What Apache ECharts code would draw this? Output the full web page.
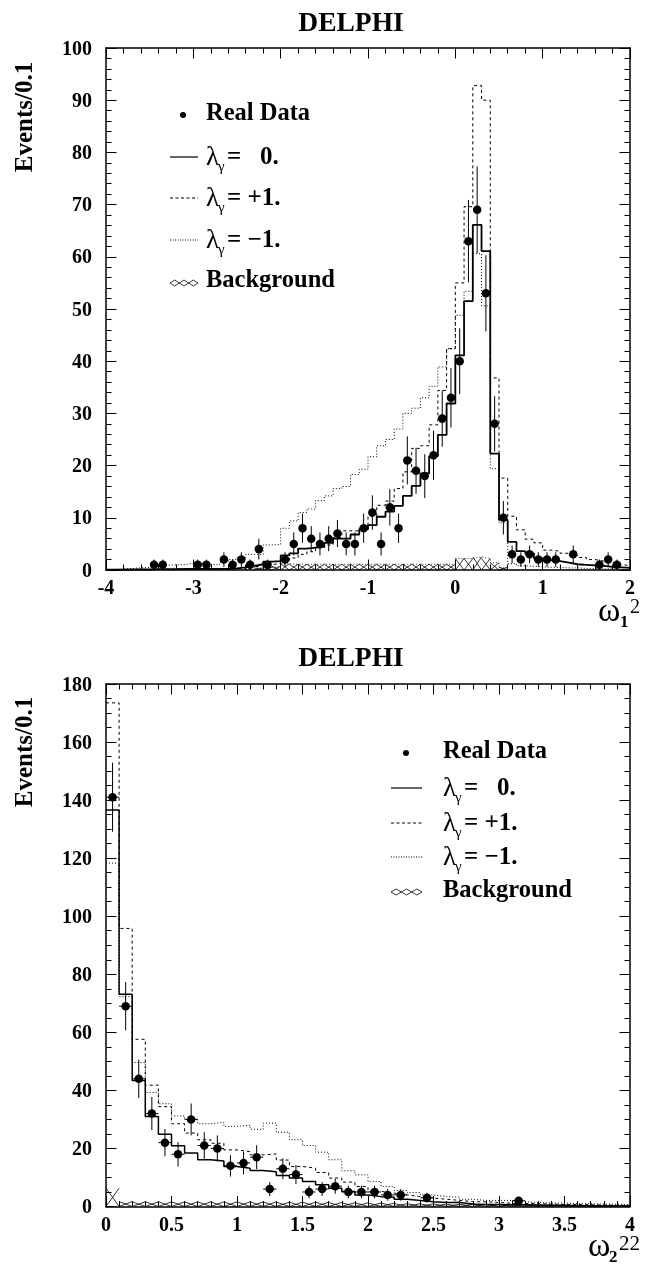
<!DOCTYPE html>
<html>
<head>
<meta charset="utf-8">
<style>html,body{margin:0;padding:0;background:#fff}#main{width:651px;height:1264px}</style>
<script src="https://cdn.jsdelivr.net/npm/echarts@6/dist/echarts.min.js"></script>
</head>
<body>
<div id="main"></div>
<script>
// upper plot, 60 bins of 0.1 from -4
var solid1 = [.05,.05,.1,.1,.1,.15,.15,.15,.2,.2,.2,.2,.2,.2,.3,.5,.8,1.1,1.6,1.7,2.8,3.2,4.1,4.3,4.5,5.2,6,6,6.8,7.8,8.6,10.2,11.2,12.3,14.2,16.1,18.5,21.8,25.9,31.9,41.1,51.5,66.1,61.1,22.3,9.6,5.4,3.6,3.2,2.2,1.9,1.7,1.4,1.1,1,.9,.8,.6,.5,.4];
var plus1 = [.05,.05,.05,.1,.1,.1,.15,.15,.15,.2,.2,.2,.25,.25,.3,.4,.6,.8,1,1.3,1.8,2.3,3,3.5,4.2,4.8,6.2,7.5,7.5,8,10.3,12.4,13.2,15.6,18.8,23.3,23.8,27.8,34.4,42.4,55,69.6,92.8,90,36.8,17.6,10.3,7.7,5.9,5.2,3.8,3.6,3.2,2.8,2.4,2,1.7,1.4,1.1,.8];
var minus1 = [.1,.2,.3,.4,.5,.8,.9,1,1,1.3,1.3,1.1,1,1.5,2,2.4,3,3,4.8,4.9,8,9.4,11,11.7,13.3,14.2,15.6,16,18.3,19.3,21.7,23.8,25,27,30,31,33,35.2,38.9,42.4,48.8,53.4,60.6,50.6,19.4,9,1.2,.8,.7,.6,.5,.5,.4,.4,.3,.3,.2,.2,.1,.1];
var back1 = [0,0,0,0,0,0,0,0,0,0,0,0,0,0,0,0,0,.4,.5,.7,1.2,1.1,1.1,1.1,1.1,1.1,1.1,1.1,1.1,1.1,1.1,1.1,1.1,1.1,1.1,1.1,1.1,1.1,1.1,1.1,2.2,2.2,2.5,2.2,1.4,.5,0,0,0,0,0,0,0,0,0,0,0,0,0,0];
var dataX1 = [-3.45,-3.35,-2.95,-2.85,-2.65,-2.55,-2.45,-2.35,-2.25,-2.15,-1.95,-1.85,-1.75,-1.65,-1.55,-1.45,-1.35,-1.25,-1.15,-1.05,-.95,-.85,-.75,-.65,-.55,-.45,-.35,-.25,-.15,-.05,.05,.15,.25,.35,.45,.55,.65,.75,.85,.95,1.05,1.15,1.35,1.65,1.75,1.85];
var dataY1 = [1,1,1,1,2,1,2,1,4,1,2,5,8,6,5,6,7,5,5,8,11,5,12,8,21,19,18,22,29,33,40,63,69,53,28,10,3,2,3,2,2,2,3,1,2,1];
var dataE1 = [1,1,1,1,1.4,1,1.4,1,2,1,1.4,2.2,2.8,2.4,2.2,2.4,2.6,2.2,2.2,2.8,3.3,2.2,3.5,2.8,4.6,4.4,4.2,4.7,5.4,5.7,6.3,7.9,8.3,7.3,5.3,3.2,1.7,1.4,1.7,1.4,1.4,1.4,1.7,1,1.4,1];

// lower plot, 40 bins of 0.1 from 0
var solid2 = [136.6,73.1,43.4,31,24.9,20.9,18.4,16.1,15.7,13.8,13.2,12.4,12,10.7,9.8,8.6,7.5,6.3,5.2,4,3.4,3.2,2.5,2.1,1.6,1.4,1.4,.9,.7,.7,.6,.6,.5,.4,.4,.3,.3,.2,.2,.2];
var plus2 = [173.5,95.8,57.6,41.8,34.4,28.5,25.3,23,21.8,19.5,18.9,17.8,18.1,16,13.8,13.2,11.7,9.8,8.4,6.9,5.2,4.6,4,3.4,2.9,2.5,2.1,1.7,1.6,1.4,1.1,1,1,.8,.7,.7,.6,.5,.4,.4];
var minus2 = [118.3,72.3,49.6,39.3,35.4,31.2,30,28.5,29,27.6,28,26.6,28.7,25.6,23,21,18.7,16.1,12.3,10.9,8.6,6.9,5.5,4.8,4,3.4,3.2,2.5,2.1,2.1,2.1,1.6,1.4,1.2,1.2,1,1,.8,.8,.6];
var back2 = [6.3,1.7,1.6,1.6,1.6,1.6,1.6,1.6,1.6,1.6,1.6,1.6,1.6,1.5,1.5,1.5,1.5,1.4,1.3,1.3,1.2,1.2,1,1,.9,.9,.8,.8,.7,.7,.6,.6,.5,.5,.5,.4,.4,.4,.3,.3];
var dataX2 = [.05,.15,.25,.35,.45,.55,.65,.75,.85,.95,1.05,1.15,1.25,1.35,1.45,1.55,1.65,1.75,1.85,1.95,2.05,2.15,2.25,2.45,3.15];
var dataY2 = [141,69,44,32,22,18,30,21,20,14,15,17,6,13,11,5,6,7,5,5,5,4,4,3,2];
var dataE2 = [11.9,8.3,6.6,5.7,4.7,4.2,5.5,4.6,4.5,3.7,3.9,4.1,2.4,3.6,3.3,2.2,2.4,2.6,2.2,2.2,2.2,2,2,1.7,1.4];

var serif = '"Liberation Serif","Times New Roman",serif';
var myChart = echarts.init(document.getElementById('main'));

function steps(vals, lo) {
    var out = vals.map(function (v, i) { return [lo + i / 10, v]; });
    out.push([lo + vals.length / 10, vals[vals.length - 1]]);
    return out;
}
function histo(name, vals, lo, idx, width, type) {
    return {
        name: name, type: 'line', step: 'end', xAxisIndex: idx * 2, yAxisIndex: idx * 2,
        data: steps(vals, lo), showSymbol: false, silent: true,
        lineStyle: { color: '#000', width: width, type: type }
    };
}
// each bin of the background gets a cross
function crosses(vals, lo, idx) {
    return {
        type: 'custom', xAxisIndex: idx * 2, yAxisIndex: idx * 2, silent: true,
        data: vals.map(function (v, i) { return [lo + i / 10, v]; }),
        renderItem: function (params, api) {
            var x = api.value(0), v = api.value(1);
            if (!v) return null;
            var a = api.coord([x, 0]), b = api.coord([x + 0.1, v]);
            return {
                type: 'group', children: [
                    { type: 'line', shape: { x1: a[0], y1: a[1], x2: b[0], y2: b[1] }, style: { stroke: '#000', lineWidth: 0.8 } },
                    { type: 'line', shape: { x1: a[0], y1: b[1], x2: b[0], y2: a[1] }, style: { stroke: '#000', lineWidth: 0.8 } }
                ]
            };
        }
    };
}
function errors(xs, ys, es, idx, horiz) {
    return {
        type: 'custom', xAxisIndex: idx * 2, yAxisIndex: idx * 2, silent: true, z: 5,
        data: xs.map(function (x, i) { return [x, ys[i], es[i]]; }),
        renderItem: function (params, api) {
            var x = api.value(0), y = api.value(1), e = api.value(2);
            var p = api.coord([x, Math.max(0, y - e)]), q = api.coord([x, y + e]);
            var kids = [{ type: 'line', shape: { x1: p[0], y1: p[1], x2: q[0], y2: q[1] }, style: { stroke: '#000', lineWidth: 1 } }];
            if (horiz) {
                var l = api.coord([x - 0.05, y]), r = api.coord([x + 0.05, y]);
                kids.push({ type: 'line', shape: { x1: l[0], y1: l[1], x2: r[0], y2: r[1] }, style: { stroke: '#000', lineWidth: 1 } });
            }
            return { type: 'group', children: kids };
        }
    };
}
function dots(xs, ys, idx) {
    return {
        type: 'scatter', xAxisIndex: idx * 2, yAxisIndex: idx * 2, symbolSize: 8.5, z: 6, silent: true,
        itemStyle: { color: '#000', opacity: 1 },
        data: xs.map(function (x, i) { return [x, ys[i]]; })
    };
}
function xAxes(idx, min, max, interval) {
    var base = {
        gridIndex: idx, type: 'value', min: min, max: max, interval: interval, splitLine: { show: false },
        axisLine: { show: true, onZero: false, lineStyle: { color: '#000', width: 1.5 } },
        axisTick: { show: true, inside: true, length: 10.5, lineStyle: { color: '#000', width: 1 } },
        minorTick: { show: true, splitNumber: 5, length: 5.5, lineStyle: { color: '#000', width: 1 } }
    };
    return [
        Object.assign({}, base, { position: 'bottom', axisLabel: { show: true, margin: 9, color: '#000', fontFamily: serif, fontWeight: 'bold', fontSize: 20, showMinLabel: true, showMaxLabel: true, hideOverlap: false } }),
        Object.assign({}, base, { position: 'top', axisLabel: { show: false } })
    ];
}
function yAxes(idx, max, interval, split) {
    var base = {
        gridIndex: idx, type: 'value', min: 0, max: max, interval: interval, splitLine: { show: false },
        axisLine: { show: true, onZero: false, lineStyle: { color: '#000', width: 1.5 } },
        axisTick: { show: true, inside: true, length: 10.5, lineStyle: { color: '#000', width: 1 } },
        minorTick: { show: true, splitNumber: split, length: 5.5, lineStyle: { color: '#000', width: 1 } }
    };
    return [
        Object.assign({}, base, { position: 'left', axisLabel: { show: true, margin: 14, verticalAlign: 'top', lineHeight: 3, color: '#000', fontFamily: serif, fontWeight: 'bold', fontSize: 20, showMinLabel: true, showMaxLabel: true, hideOverlap: false } }),
        Object.assign({}, base, { position: 'right', axisLabel: { show: false } })
    ];
}
function txt(x, y, text, size, weight) {
    return {
        type: 'text', x: x, y: y, silent: true,
        style: { text: text, fontFamily: serif, fontSize: size, fontWeight: weight || 'bold', fill: '#000', verticalAlign: 'middle' }
    };
}
function upright(x, y, text, size) {
    return {
        type: 'text', x: x, y: y, rotation: Math.PI / 2, silent: true,
        style: { text: text, fontFamily: serif, fontSize: size, fontWeight: 'bold', fill: '#000', align: 'center', verticalAlign: 'middle' }
    };
}
function seg(x1, x2, y, width, dash) {
    return { type: 'line', silent: true, shape: { x1: x1, y1: y, x2: x2, y2: y }, style: { stroke: '#000', lineWidth: width, lineDash: dash } };
}
function zigzag(x1, x2, y) {
    var pts = [], pts2 = [], n = 3, w = (x2 - x1) / n;
    for (var i = 0; i <= n * 2; i++) {
        var sign = i % 2 ? 1 : 0;
        pts.push([x1 + i * w / 2, y - sign * 3]);
        pts2.push([x1 + i * w / 2, y + sign * 3]);
    }
    return [
        { type: 'polyline', silent: true, shape: { points: pts }, style: { stroke: '#000', lineWidth: 0.8, fill: null } },
        { type: 'polyline', silent: true, shape: { points: pts2 }, style: { stroke: '#000', lineWidth: 0.8, fill: null } }
    ];
}
// legend block: l1/l2 = sample line ends, tx = text start, ys = row centres
function legend(dotX, dotY, l1, l2, tx, ys, hatchY) {
    var els = [
        { type: 'circle', silent: true, shape: { cx: dotX, cy: dotY, r: 3 }, style: { fill: '#000' } },
        txt(tx, ys[0] + 2, 'Real Data', 24.5),
        seg(l1, l2, ys[1], 1.2), seg(l1, l2, ys[2], 1, [3, 2.5]), seg(l1, l2, ys[3], 1, [1, 1.5]),
        txt(tx, ys[4] + 2, 'Background', 24.5)
    ].concat(zigzag(l1, l2, hatchY));
    var rows = ['=   0.', '= +1.', '= \u22121.'];
    rows.forEach(function (r, i) {
        var y = ys[i + 1] + 1.5;
        els.push(txt(tx, y - 1, '\u03bb', 27, 'normal'));
        els.push(txt(tx + 12, y + 9, '\u03b3', 15, 'normal'));
        els.push(txt(tx + 21, y - 1, r, 25));
    });
    return els;
}

var graphics = []
    .concat(legend(183, 115, 170, 198, 206, [112, 157, 198, 240, 279], 283))
    .concat(legend(406, 753, 391, 422, 443, [750, 788, 823, 857, 889], 892))
    .concat([
        upright(26, 117, 'Events/0.1', 25),
        upright(26, 752, 'Events/0.1', 25),
        txt(598, 612, '\u03c9', 34, 'normal'),
        txt(620, 623, '1', 17),
        txt(630, 608, '2', 20, 'normal'),
        txt(588, 1247, '\u03c9', 34, 'normal'),
        txt(609, 1258, '2', 17),
        txt(619, 1244, '22', 21, 'normal')
    ]);

var option = {
    animation: false,
    backgroundColor: '#fff',
    title: [
        { text: 'DELPHI', left: 346, top: 5, textAlign: 'center', textStyle: { fontFamily: serif, fontWeight: 'bold', fontSize: 27.5, color: '#000' } },
        { text: 'DELPHI', left: 346, top: 640, textAlign: 'center', textStyle: { fontFamily: serif, fontWeight: 'bold', fontSize: 27.5, color: '#000' } }
    ],
    grid: [
        { left: 106, top: 48, width: 524, height: 522 },
        { left: 106, top: 684, width: 524, height: 522.5 }
    ],
    xAxis: xAxes(0, -4, 2, 1).concat(xAxes(1, 0, 4, 0.5)),
    yAxis: yAxes(0, 100, 10, 5).concat(yAxes(1, 180, 20, 4)),
    series: [
        crosses(back1, -4, 0),
        histo('bg', back1, -4, 0, 0.8, [1, 2]),
        histo('+1', plus1, -4, 0, 1, [3, 3]),
        histo('-1', minus1, -4, 0, 1, [1, 2]),
        histo('0', solid1, -4, 0, 1.8, 'solid'),
        errors(dataX1, dataY1, dataE1, 0, false),
        dots(dataX1, dataY1, 0),
        crosses(back2, 0, 1),
        histo('+1', plus2, 0, 1, 1, [3, 3]),
        histo('-1', minus2, 0, 1, 1, [1, 2]),
        histo('0', solid2, 0, 1, 1.5, 'solid'),
        errors(dataX2, dataY2, dataE2, 1, true),
        dots(dataX2, dataY2, 1)
    ],
    graphic: graphics
};
myChart.setOption(option);
</script>
</body>
</html>
